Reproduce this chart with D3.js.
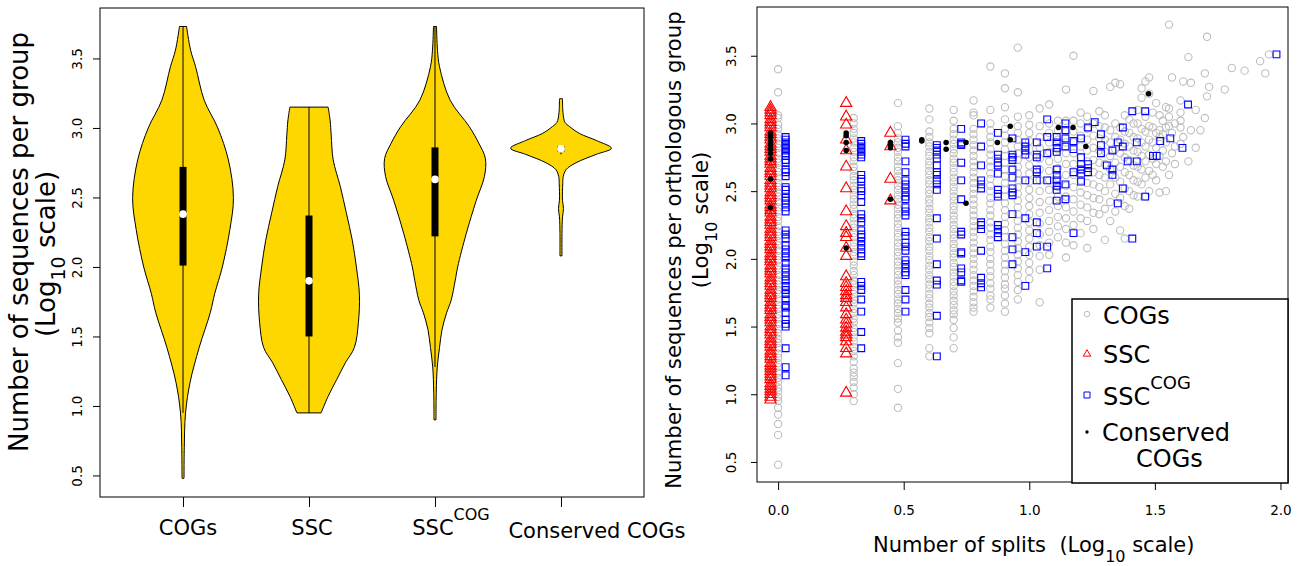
<!DOCTYPE html>
<html>
<head>
<meta charset="utf-8">
<script src="https://cdn.jsdelivr.net/npm/d3@7/dist/d3.min.js"></script>
<style>
  body { margin: 0; background: #fff; }
  svg text { font-family: "DejaVu Sans", sans-serif; fill: #000; }
</style>
</head>
<body>
<svg id="chart" width="1306" height="566"></svg>
<script>
// ---------------- data: violin panel (log10 sequences per group) ----------------
const groups = ["COGs", "SSC", "SSC", "Conserved COGs"];
const groupSup = ["", "", "COG", ""];
const groupMin = [0.48, 0.95, 0.90, 2.08];
const groupMax = [3.73, 3.15, 3.73, 3.21];
const groupQ1 = [2.01, 1.50, 2.22, 2.83];
const groupMedian = [2.38, 1.90, 2.63, 2.85];
const groupQ3 = [2.72, 2.37, 2.86, 2.87];
const whiskerLo = [0.95, 0.95, 1.28, 2.81];
const whiskerHi = [3.73, 3.15, 3.73, 2.87];

// density outline: [value, relative width]
const densCOGs = [[0.48,0.02],[0.70,0.025],[0.95,0.05],[1.17,0.14],[1.42,0.32],[1.67,0.54],[1.81,0.63],[2.00,0.78],[2.27,0.93],[2.50,1.00],[2.77,0.90],[3.00,0.69],[3.20,0.42],[3.44,0.25],[3.56,0.15],[3.73,0.07]];
const densSSC = [[0.95,0.24],[1.07,0.38],[1.19,0.55],[1.31,0.72],[1.42,0.90],[1.60,0.98],[1.80,1.00],[2.00,0.94],[2.19,0.86],[2.39,0.74],[2.58,0.62],[2.77,0.48],[2.95,0.44],[3.05,0.42],[3.15,0.38]];
const densSSCCOG = [[0.90,0.02],[1.10,0.025],[1.28,0.045],[1.42,0.09],[1.55,0.14],[1.67,0.23],[1.76,0.32],[1.90,0.40],[2.00,0.45],[2.24,0.62],[2.48,0.82],[2.65,0.98],[2.78,1.00],[2.89,0.87],[3.01,0.68],[3.20,0.30],[3.44,0.09],[3.56,0.05],[3.73,0.03]];
const densCons = [[2.08,0.02],[2.24,0.02],[2.36,0.03],[2.42,0.05],[2.48,0.03],[2.60,0.035],[2.65,0.045],[2.70,0.10],[2.75,0.30],[2.81,0.70],[2.854,1.00],[2.91,0.70],[2.96,0.37],[3.01,0.17],[3.04,0.08],[3.11,0.04],[3.21,0.03]];
const densities = [densCOGs, densSSC, densSSCCOG, densCons];

// ---------------- data: scatter panel (number of splits, log10 sequences) ----------------
const cogSplits = [1,2,3,4,5,6,7,8,9,10,11,12,13,14,15,16,17,18,19,20,21,22,23,24,25,26,27,28,29,30,31,32,33,34,35,36,37,38,40,41,43,44,46,48,50,51,52,60,64,72,83,87,90];
const cogSeqs = [
  [0.48,0.70,0.78,0.85,0.90,0.95,0.98,1.02,1.05,1.09,1.12,1.16,1.20,1.23,1.27,1.30,1.34,1.38,1.41,1.45,1.48,1.52,1.56,1.59,1.63,1.66,1.70,1.74,1.77,1.81,1.84,1.88,1.92,1.95,1.99,2.02,2.06,2.10,2.13,2.17,2.20,2.24,2.28,2.31,2.35,2.38,2.42,2.46,2.49,2.53,2.56,2.60,2.64,2.67,2.71,2.74,2.78,2.82,2.85,2.89,2.92,2.96,2.99,3.04,3.06,3.23,3.40],
  [0.95,1.00,1.05,1.09,1.13,1.16,1.19,1.24,1.28,1.32,1.35,1.39,1.42,1.46,1.49,1.53,1.56,1.60,1.63,1.67,1.70,1.74,1.77,1.81,1.84,1.88,1.91,1.95,1.98,2.02,2.05,2.09,2.12,2.16,2.19,2.23,2.26,2.30,2.33,2.37,2.40,2.44,2.47,2.51,2.54,2.58,2.61,2.65,2.68,2.72,2.75,2.79,2.82,2.86,2.89,2.93,2.96,3.00,3.04],
  [0.90,1.04,1.23,1.38,1.42,1.47,1.53,1.56,1.60,1.63,1.67,1.70,1.74,1.77,1.81,1.84,1.88,1.91,1.95,1.98,2.02,2.05,2.09,2.12,2.16,2.19,2.23,2.26,2.30,2.33,2.37,2.40,2.44,2.47,2.51,2.54,2.58,2.61,2.65,2.68,2.72,2.75,2.79,2.82,2.86,2.89,2.93,2.98,3.15],
  [1.28,1.34,1.45,1.49,1.53,1.57,1.60,1.64,1.67,1.71,1.74,1.78,1.81,1.85,1.88,1.92,1.95,1.99,2.02,2.06,2.09,2.13,2.16,2.20,2.23,2.27,2.30,2.34,2.37,2.41,2.44,2.48,2.51,2.55,2.58,2.62,2.65,2.69,2.72,2.76,2.79,2.83,2.86,2.90,2.94,3.03,3.11],
  [1.34,1.42,1.49,1.55,1.59,1.62,1.66,1.69,1.73,1.76,1.80,1.83,1.87,1.90,1.94,1.97,2.01,2.04,2.08,2.11,2.15,2.18,2.22,2.25,2.29,2.32,2.36,2.39,2.43,2.46,2.50,2.53,2.57,2.60,2.64,2.67,2.71,2.74,2.78,2.81,2.85,2.88,2.92,2.96,3.02,3.10],
  [1.61,1.64,1.68,1.72,1.76,1.80,1.84,1.88,1.92,1.96,2.00,2.04,2.08,2.12,2.16,2.20,2.24,2.28,2.32,2.36,2.40,2.44,2.48,2.52,2.56,2.60,2.64,2.68,2.72,2.76,2.80,2.84,2.88,2.92,2.96,3.06,3.08,3.17],
  [1.64,1.70,1.73,1.78,1.82,1.87,1.91,1.96,2.00,2.05,2.09,2.14,2.18,2.23,2.27,2.32,2.36,2.41,2.45,2.50,2.54,2.59,2.63,2.68,2.72,2.77,2.81,2.86,2.90,2.95,3.00,3.10,3.42],
  [1.61,1.67,1.73,1.78,1.81,1.86,1.91,1.96,2.01,2.06,2.11,2.16,2.21,2.26,2.31,2.36,2.41,2.46,2.51,2.56,2.61,2.66,2.71,2.76,2.81,2.86,2.91,2.96,3.03,3.12,3.26,3.37],
  [1.70,1.77,1.83,1.88,1.93,1.98,2.03,2.08,2.13,2.18,2.23,2.28,2.33,2.38,2.43,2.48,2.53,2.58,2.63,2.68,2.73,2.78,2.83,2.88,2.93,2.98,3.05,3.23,3.56],
  [1.85,1.91,1.97,2.03,2.09,2.15,2.21,2.27,2.33,2.39,2.45,2.51,2.57,2.63,2.69,2.75,2.81,2.87,2.93,2.99,3.06],
  [1.68,1.92,2.02,2.10,2.18,2.26,2.34,2.42,2.50,2.58,2.66,2.74,2.82,2.90,2.98,3.11],
  [2.03,2.12,2.20,2.28,2.36,2.43,2.51,2.58,2.65,2.72,2.79,2.86,2.93,3.00,3.14],
  [2.16,2.24,2.31,2.39,2.46,2.53,2.60,2.67,2.74,2.81,2.88,2.95,3.02],
  [2.01,2.12,2.22,2.30,2.38,2.46,2.54,2.62,2.70,2.78,2.86,2.94,3.02,3.25],
  [2.10,2.25,2.35,2.44,2.53,2.62,2.70,2.78,2.86,2.94,3.02,3.50],
  [2.19,2.30,2.40,2.49,2.58,2.66,2.75,2.83,2.91,3.00,3.08],
  [2.08,2.28,2.38,2.47,2.56,2.64,2.72,2.80,2.88,2.96,3.05],
  [2.22,2.34,2.45,2.55,2.64,2.73,2.82,2.91,3.00,3.24],
  [2.33,2.44,2.53,2.62,2.71,2.80,2.89,2.98,3.09],
  [2.14,2.37,2.50,2.60,2.70,2.79,2.88,2.97,3.06],
  [2.28,2.42,2.55,2.66,2.76,2.86,2.95,3.27],
  [2.35,2.48,2.60,2.71,2.81,2.90,3.00,3.30],
  [2.21,2.45,2.57,2.68,2.78,2.88,2.97,3.29],
  [2.15,2.39,2.52,2.64,2.75,2.85,2.94,3.06],
  [2.37,2.50,2.62,2.73,2.83,2.93,3.03],
  [2.47,2.58,2.69,2.80,2.90,3.00],
  [2.46,2.57,2.68,2.79,2.89,3.00,3.10],
  [2.55,2.66,2.76,2.86,2.96,3.19,3.26],
  [2.46,2.60,2.72,2.83,2.94,3.05,3.31],
  [2.50,2.65,2.77,2.88,2.98,3.22,3.34],
  [2.62,2.74,2.86,2.97,3.08],
  [2.58,2.70,2.82,2.93,3.15],
  [2.49,2.76,2.90,2.95,3.06],
  [2.68,2.80,2.92,3.02],
  [2.50,2.72,2.86,2.97,3.12],
  [2.62,2.98,3.05,3.11,3.73],
  [2.78,2.93,3.34],
  [2.70,2.83,3.00],
  [2.85,2.97,3.02,3.08,3.17],
  [2.90,3.31],
  [2.72,3.49],
  [2.95,3.30],
  [2.82,3.10],
  [2.95],
  [3.04,3.37],
  [3.20,3.64],
  [3.27],
  [3.25],
  [3.41],
  [3.39],
  [3.46],
  [3.37],
  [3.51]
];

const sscSplits = [1, 2, 3];
const sscSeqs = [
  [0.96,0.98,1.00,1.02,1.04,1.06,1.08,1.11,1.13,1.15,1.17,1.19,1.21,1.23,1.26,1.28,1.30,1.32,1.35,1.37,1.39,1.41,1.44,1.46,1.48,1.50,1.53,1.55,1.57,1.59,1.62,1.64,1.66,1.68,1.71,1.73,1.75,1.77,1.80,1.82,1.84,1.86,1.89,1.91,1.93,1.95,1.98,2.00,2.02,2.04,2.07,2.09,2.11,2.13,2.16,2.18,2.20,2.22,2.25,2.27,2.29,2.31,2.34,2.36,2.38,2.40,2.43,2.45,2.47,2.49,2.52,2.54,2.56,2.58,2.61,2.63,2.65,2.67,2.70,2.72,2.74,2.76,2.79,2.81,2.83,2.85,2.88,2.90,2.92,2.94,2.97,2.99,3.01,3.03,3.06,3.08,3.10,3.12],
  [3.15,3.05,2.99,2.88,2.80,2.68,2.52,2.35,2.24,2.19,2.16,2.08,2.02,1.87,1.82,1.79,1.76,1.73,1.71,1.68,1.64,1.59,1.55,1.52,1.49,1.46,1.44,1.42,1.39,1.34,1.30,1.01],
  [2.93,2.83,2.59,2.43]
];

const sscCogSplits = [1,2,3,4,5,6,7,8,9,10,11,12,13,14,15,16,17,18,19,20,21,22,23,24,25,27,29,30,31,34,38,40,90];
const sscCogSeqs = [
  [2.90,2.88,2.86,2.84,2.82,2.80,2.78,2.76,2.73,2.71,2.66,2.64,2.61,2.53,2.51,2.48,2.45,2.43,2.41,2.38,2.35,2.21,2.18,2.15,2.10,2.07,2.04,2.01,1.97,1.93,1.90,1.87,1.84,1.80,1.77,1.74,1.70,1.66,1.64,1.60,1.55,1.52,1.50,1.34,1.20,1.14],
  [2.87,2.85,2.83,2.81,2.79,2.77,2.75,2.62,2.59,2.57,2.52,2.50,2.47,2.42,2.33,2.30,2.27,2.21,2.18,2.16,2.13,2.10,2.07,2.04,2.02,1.83,1.80,1.77,1.70,1.61,1.46,1.34],
  [2.88,2.85,2.83,2.72,2.64,2.58,2.55,2.52,2.49,2.46,2.44,2.38,2.35,2.32,2.20,2.17,2.12,2.09,2.06,1.99,1.96,1.93,1.90,1.88,1.77,1.70,1.61],
  [2.84,2.82,2.80,2.77,2.74,2.69,2.64,2.62,2.58,2.55,2.51,2.30,2.15,1.96,1.84,1.81,1.58,1.28],
  [2.96,2.86,2.85,2.84,2.71,2.58,2.44,2.20,2.18,2.05,2.04,1.93,1.90,1.84,1.83],
  [3.00,2.83,2.69,2.58,2.55,2.52,2.27,2.25,2.22,2.06,1.86,1.82,1.79],
  [2.93,2.77,2.74,2.71,2.69,2.63,2.51,2.48,2.46,2.25,2.22,2.19,2.16],
  [2.89,2.77,2.75,2.73,2.66,2.60,2.52,2.49,2.47,2.33,2.16,2.07,1.96],
  [2.86,2.83,2.80,2.77,2.58,2.30,2.05,1.80],
  [2.86,2.77,2.75,2.66,2.64,2.58,2.27,2.19,2.09],
  [3.03,2.90,2.78,2.58,2.09,1.93],
  [2.90,2.86,2.82,2.79,2.66,2.62,2.58,2.54,2.51,2.43],
  [3.00,2.95,2.89,2.83,2.55,2.44],
  [2.87,2.81,2.64,2.19],
  [2.89,2.75,2.70,2.66,2.63,2.57],
  [2.97,2.70,2.67,2.64],
  [3.01],
  [2.92,2.84,2.78],
  [2.69],
  [2.80,2.66,2.62],
  [2.86,2.41],
  [2.97,2.83,2.52],
  [2.72],
  [3.09,2.15],
  [2.86,2.72],
  [3.09,2.46],
  [2.76],
  [2.76],
  [2.87],
  [2.89],
  [2.82],
  [3.14],
  [3.51]
];

const consSplits = [1, 2, 3, 4, 5, 6, 8, 9, 14, 16, 18, 32];
const consSeqs = [
  [2.93,2.90,2.87,2.84,2.81,2.78,2.74,2.59,2.38],
  [2.93,2.91,2.86,2.80,2.08],
  [2.86,2.84,2.82,2.44],
  [2.88,2.87],
  [2.86,2.81],
  [2.86,2.41],
  [2.86],
  [2.98,2.88],
  [2.97],
  [2.97],
  [2.83],
  [3.22]
];

const violinTicks = [0.5, 1.0, 1.5, 2.0, 2.5, 3.0, 3.5];
const splitTicks = [0.0, 0.5, 1.0, 1.5, 2.0];

// ---------------- set up svg ----------------
const svg = d3.select("#chart");
const fmt = d3.format(".1f");

// ================= left panel: violins =================
const xv = d3.scaleLinear().domain([0.341, 4.659]).range([100, 644]);
const yv = d3.scaleLinear().domain([0.345, 3.863]).range([497, 8]);
const wv = d3.scaleLinear().domain([0, 1]).range([0, 0.4]);

const violins = svg.append("g");
densities.forEach(function (dens, i) {
  const cx = i + 1;
  const area = d3.area()
    .curve(d3.curveCatmullRom.alpha(0.5))
    .y(d => yv(d[0]))
    .x0(d => xv(cx - wv(d[1])))
    .x1(d => xv(cx + wv(d[1])));
  violins.append("path")
    .datum(dens)
    .attr("d", area)
    .style("fill", "#FFD700")
    .style("stroke", "#000")
    .style("stroke-width", 1);

  // whisker line
  violins.append("line")
    .attr("x1", xv(cx)).attr("x2", xv(cx))
    .attr("y1", yv(whiskerLo[i])).attr("y2", yv(whiskerHi[i]))
    .style("stroke", "#000").style("stroke-width", 1);

  // box
  violins.append("rect")
    .attr("x", xv(cx) - 3.5)
    .attr("width", 7)
    .attr("y", yv(groupQ3[i]))
    .attr("height", yv(groupQ1[i]) - yv(groupQ3[i]))
    .style("fill", "#000");

  // median
  violins.append("circle")
    .attr("cx", xv(cx)).attr("cy", yv(groupMedian[i]))
    .attr("r", 3.8)
    .style("fill", "#fff");
});

// frame
svg.append("rect")
  .attr("x", 100).attr("y", 8).attr("width", 544).attr("height", 489)
  .style("fill", "none").style("stroke", "#000").style("stroke-width", 1);

// y axis with rotated labels
const yAxisL = svg.append("g")
  .attr("transform", "translate(100,0)")
  .call(d3.axisLeft(yv).tickValues(violinTicks).tickSize(7).tickFormat(fmt));
yAxisL.select(".domain").remove();
yAxisL.selectAll("text")
  .attr("x", null).attr("dy", null)
  .attr("text-anchor", "middle")
  .attr("transform", "translate(-18,0) rotate(-90)")
  .style("font-size", "13.5px");

// x axis ticks, labels drawn separately (superscript)
const xAxisL = svg.append("g")
  .attr("transform", "translate(0,497)")
  .call(d3.axisBottom(xv).tickValues([1, 2, 3, 4]).tickSize(10).tickFormat(""));
xAxisL.select(".domain").remove();

const labelShift = [5, 3, 16, 36];
groups.forEach(function (name, i) {
  const t = svg.append("text")
    .attr("x", xv(i + 1) + labelShift[i])
    .attr("y", i === 3 ? 538 : 535)
    .attr("text-anchor", "middle")
    .style("font-size", "21px");
  t.append("tspan").text(name);
  if (groupSup[i]) t.append("tspan").attr("dy", -15).style("font-size", "16px").text(groupSup[i]);
});

// y title
svg.append("text")
  .attr("transform", "translate(28,242) rotate(-90)")
  .attr("text-anchor", "middle")
  .style("font-size", "26px")
  .text("Number of sequences per group");
const lt2 = svg.append("text")
  .attr("transform", "translate(55,254) rotate(-90)")
  .attr("text-anchor", "middle")
  .style("font-size", "26px");
lt2.append("tspan").text("(Log");
lt2.append("tspan").attr("dy", 10).style("font-size", "19px").text("10");
lt2.append("tspan").attr("dy", -10).text(" scale)");

// ================= right panel: scatter =================
const xs = d3.scaleLinear().domain([-0.084, 2.03]).range([757, 1288]);
const ys = d3.scaleLinear().domain([0.352, 3.86]).range([482, 7]);

function flatten(splits, seqs, shift) {
  const pts = [];
  splits.forEach(function (s, i) {
    seqs[i].forEach(v => pts.push({x: Math.log10(s) + shift, y: v}));
  });
  return pts;
}

const scatter = svg.append("g");
const series = [
  {pts: flatten(cogSplits, cogSeqs, 0), type: d3.symbolCircle, size: 42, stroke: "#bebebe", fill: "none"},
  {pts: flatten(sscSplits, sscSeqs, -0.03), type: d3.symbolTriangle, size: 55, stroke: "#ff0000", fill: "none"},
  {pts: flatten(sscCogSplits, sscCogSeqs, 0.03), type: d3.symbolSquare, size: 46, stroke: "#0000ff", fill: "none"},
  {pts: flatten(consSplits, consSeqs, -0.03), type: d3.symbolCircle, size: 24, stroke: "none", fill: "#000"}
];
series.forEach(function (s) {
  scatter.append("g").selectAll("path")
    .data(s.pts)
    .enter()
    .append("path")
    .attr("d", d3.symbol().type(s.type).size(s.size))
    .attr("transform", d => "translate(" + xs(d.x) + "," + ys(d.y) + ")")
    .style("fill", s.fill)
    .style("stroke", s.stroke)
    .style("stroke-width", 1.1);
});

svg.append("rect")
  .attr("x", 757).attr("y", 7).attr("width", 531).attr("height", 475)
  .style("fill", "none").style("stroke", "#000").style("stroke-width", 1);

const yAxisR = svg.append("g")
  .attr("transform", "translate(757,0)")
  .call(d3.axisLeft(ys).tickValues(violinTicks).tickSize(6).tickFormat(fmt));
yAxisR.select(".domain").remove();
yAxisR.selectAll("text")
  .attr("x", null).attr("dy", null)
  .attr("text-anchor", "middle")
  .attr("transform", "translate(-21,0) rotate(-90)")
  .style("font-size", "13.5px");

const xAxisR = svg.append("g")
  .attr("transform", "translate(0,482)")
  .call(d3.axisBottom(xs).tickValues(splitTicks).tickSize(8).tickPadding(15).tickFormat(fmt));
xAxisR.select(".domain").remove();
xAxisR.selectAll("text").style("font-size", "13.5px");

// titles
svg.append("text")
  .attr("transform", "translate(681,250) rotate(-90)")
  .attr("text-anchor", "middle")
  .style("font-size", "21.3px")
  .text("Number of sequences per orthologous group");
const rt2 = svg.append("text")
  .attr("transform", "translate(708,220) rotate(-90)")
  .attr("text-anchor", "middle")
  .style("font-size", "21.3px");
rt2.append("tspan").text("(Log");
rt2.append("tspan").attr("dy", 9).style("font-size", "16px").text("10");
rt2.append("tspan").attr("dy", -9).text(" scale)");

const xt = svg.append("text")
  .attr("x", 873).attr("y", 552)
  .style("font-size", "21px");
xt.append("tspan").text("Number of splits\u00a0 (Log");
xt.append("tspan").attr("dy", 10).style("font-size", "16px").text("10");
xt.append("tspan").attr("dy", -10).text(" scale)");

// legend
const legend = svg.append("g");
legend.append("rect")
  .attr("x", 1072).attr("y", 299).attr("width", 216).attr("height", 184)
  .style("fill", "#fff").style("stroke", "#000").style("stroke-width", 1.5);

const legendSymbols = [
  {type: d3.symbolCircle, size: 24, stroke: "#bebebe", fill: "none", y: 314},
  {type: d3.symbolTriangle, size: 24, stroke: "#ff0000", fill: "none", y: 354},
  {type: d3.symbolSquare, size: 36, stroke: "#0000ff", fill: "none", y: 395},
  {type: d3.symbolCircle, size: 9, stroke: "none", fill: "#000", y: 432}
];
legendSymbols.forEach(function (d) {
  legend.append("path")
    .attr("d", d3.symbol().type(d.type).size(d.size))
    .attr("transform", "translate(1087," + d.y + ")")
    .style("fill", d.fill).style("stroke", d.stroke).style("stroke-width", 1);
});

legend.append("text").attr("x", 1103).attr("y", 324).style("font-size", "24px").text("COGs");
legend.append("text").attr("x", 1103).attr("y", 363).style("font-size", "24px").text("SSC");
const lg3 = legend.append("text").attr("x", 1103).attr("y", 405).style("font-size", "24px");
lg3.append("tspan").text("SSC");
lg3.append("tspan").attr("dy", -16).style("font-size", "18px").text("COG");
legend.append("text").attr("x", 1102).attr("y", 441).style("font-size", "24px").text("Conserved");
legend.append("text").attr("x", 1136).attr("y", 467).style("font-size", "24px").text("COGs");
</script>
</body>
</html>
